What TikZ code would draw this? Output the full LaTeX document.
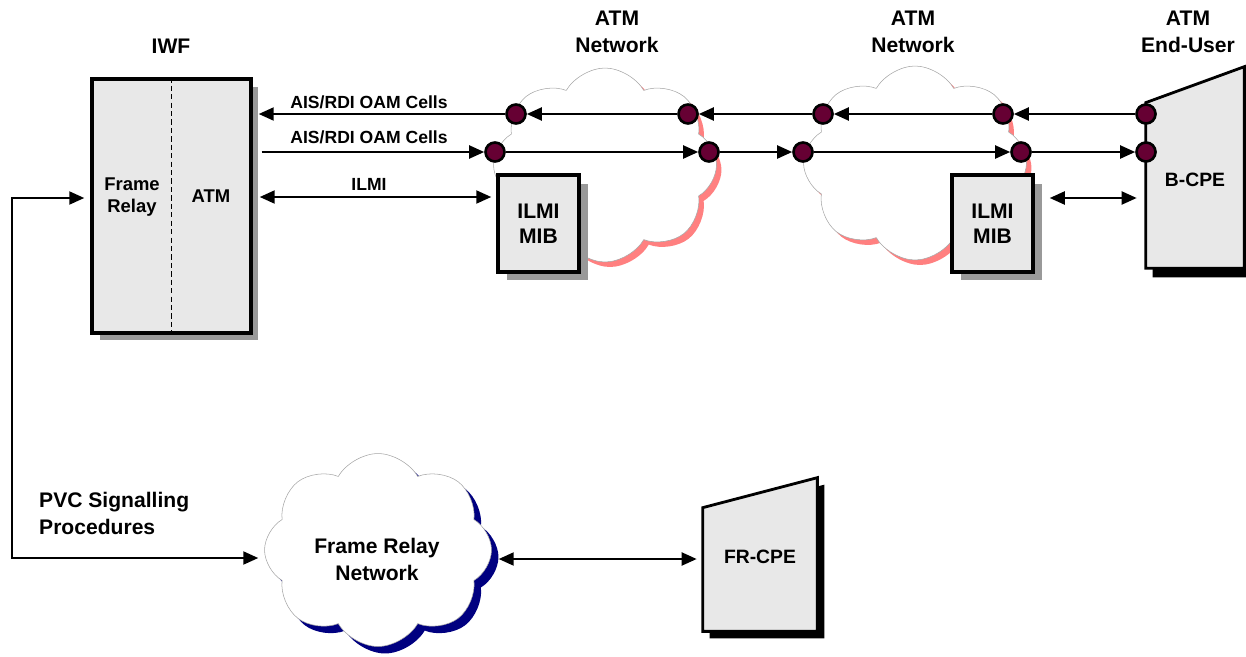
\documentclass[tikz,border=0pt]{standalone}
\usepackage{fontspec}
\setmainfont{Liberation Sans}
\usepackage{tikz}
\usetikzlibrary{arrows.meta, positioning, calc, shapes.symbols, shadows}
\definecolor{boxgray}{RGB}{232,232,232}
\definecolor{shadegray}{RGB}{153,153,153}
\definecolor{cellred}{RGB}{102,0,51}
\definecolor{atmpink}{RGB}{255,128,128}
\definecolor{frnavy}{RGB}{0,0,128}
\definecolor{cloudline}{RGB}{165,165,165}
\tikzset{
  iwfbox/.style={rectangle, draw=black, fill=boxgray, line width=2pt,
    minimum width=3.18cm, minimum height=5.08cm,
    drop shadow={shadow xshift=0.15cm, shadow yshift=-0.15cm, fill=shadegray, opacity=1}},
  mibbox/.style={rectangle, draw=black, fill=boxgray, line width=2pt,
    minimum width=1.62cm, minimum height=1.94cm, align=center,
    font=\fontsize{12}{14.2}\selectfont\bfseries,
    drop shadow={shadow xshift=0.17cm, shadow yshift=-0.17cm, fill=shadegray, opacity=1}},
  atmcloud/.style={cloud, cloud puffs=8, cloud puff arc=120, cloud ignores aspect,
    draw=cloudline, line width=0.3pt, fill=white,
    minimum width=4.46cm, minimum height=3.88cm,
    drop shadow={shadow xshift=0.1cm, shadow yshift=-0.1cm, fill=atmpink, opacity=1}},
  frcloud/.style={cloud, cloud puffs=8, cloud puff arc=120, cloud ignores aspect,
    draw=cloudline, line width=0.3pt, fill=white,
    minimum width=4.54cm, minimum height=3.86cm,
    drop shadow={shadow xshift=0.14cm, shadow yshift=-0.14cm, fill=frnavy, opacity=1}},
  cpebox/.style={rectangle, inner sep=0pt},
  cpe/.style={draw=black, fill=boxgray, line width=1.6pt, line join=miter},
  cellpt/.style={circle, draw=black, fill=cellred, line width=1.5pt,
    minimum size=0.38cm, inner sep=0pt},
  arrow/.style={-{Triangle[length=0.3cm, width=0.26cm]}, line width=1.2pt},
  dblarrow/.style={{Triangle[length=0.3cm, width=0.26cm]}-{Triangle[length=0.3cm, width=0.26cm]}, line width=1.2pt},
  lbl/.style={font=\fontsize{12}{15.4}\selectfont\bfseries, align=center},
  boxtxt/.style={font=\fontsize{10.5}{12.9}\selectfont\bfseries, align=center},
  cpetxt/.style={font=\fontsize{11}{13}\selectfont\bfseries},
  celllbl/.style={font=\fontsize{10}{12}\selectfont\bfseries}
}
\begin{document}
\begin{tikzpicture}[x=0.02cm, y=-0.02cm]
  \useasboundingbox (0,0) rectangle (1246,656);

  % Clouds
  \node[atmcloud] (atm1) at (605,165) {};
  \node[atmcloud] (atm2) at (915,163) {};
  \node[frcloud] (frnet) at (378,550) {};
  \node[lbl] (frnettxt) at (377,559) {Frame Relay\\Network};

  % Top labels
  \node[lbl] (iwflbl) at (171,46) {IWF};
  \node[lbl] (atm1lbl) at (617,32) {ATM\\Network};
  \node[lbl] (atm2lbl) at (913,32) {ATM\\Network};
  \node[lbl] (userlbl) at (1188,32) {ATM\\End-User};

  % IWF
  \node[iwfbox] (iwf) at (171.5,206) {};
  \draw[dash pattern=on 3pt off 1.8pt, line width=1pt] (iwf.north) -- (iwf.south);
  \node[boxtxt] (frtxt) at (132,197) {Frame\\Relay};
  \node[boxtxt] (atmtxt) at (211,196) {ATM};

  % ILMI MIBs
  \node[mibbox] (mib1) at (538.5,223.5) {ILMI\\MIB};
  \node[mibbox] (mib2) at (992.5,223.5) {ILMI\\MIB};

  % B-CPE
  \node[cpebox, minimum width=1.96cm, minimum height=4.02cm] (bcpe) at (1195,167.5) {};
  \fill[black] ($(bcpe.south west)+(7,9)$) -- ($(bcpe.south east)+(7,9)$)
    -- ($(bcpe.north east)+(7,9)$) -- ($(bcpe.north west)+(7,45)$) -- cycle;
  \draw[cpe] (bcpe.south west) -- (bcpe.south east) -- (bcpe.north east)
    -- ($(bcpe.north west)+(0,36)$) -- cycle;
  \node[cpetxt] (bcpetxt) at (1195,180) {B-CPE};

  % FR-CPE
  \node[cpebox, minimum width=2.28cm, minimum height=3.06cm] (frcpe) at (760,554.5) {};
  \fill[black] ($(frcpe.south west)+(7,7)$) -- ($(frcpe.south east)+(7,7)$)
    -- ($(frcpe.north east)+(7,7)$) -- ($(frcpe.north west)+(7,37)$) -- cycle;
  \draw[cpe] (frcpe.south west) -- (frcpe.south east) -- (frcpe.north east)
    -- ($(frcpe.north west)+(0,30)$) -- cycle;
  \node[cpetxt] (frcpetxt) at (760,557) {FR-CPE};

  % OAM cell points
  \node[cellpt] (a1) at (516,114) {};
  \node[cellpt] (a2) at (688,114) {};
  \node[cellpt] (a3) at (823,114) {};
  \node[cellpt] (a4) at (1003,114) {};
  \node[cellpt] (a5) at (1146,114) {};
  \node[cellpt] (b1) at (495,152) {};
  \node[cellpt] (b2) at (709,152) {};
  \node[cellpt] (b3) at (803,152) {};
  \node[cellpt] (b4) at (1021,152) {};
  \node[cellpt] (b5) at (1146,152) {};

  % AIS/RDI flows
  \draw[arrow] (a5) -- (a4);
  \draw[arrow] (a4) -- (a3);
  \draw[arrow] (a3) -- (a2);
  \draw[arrow] (a2) -- (a1);
  \draw[arrow] (a1) -- ($(a1 -| iwf.east)+(6,0)$);
  \draw[arrow] ($(b1 -| iwf.east)+(9,0)$) -- (b1);
  \draw[arrow] (b1) -- (b2);
  \draw[arrow] (b2) -- (b3);
  \draw[arrow] (b3) -- (b4);
  \draw[arrow] (b4) -- (b5);
  \node[celllbl] (aislbl1) at (369,102) {AIS/RDI OAM Cells};
  \node[celllbl] (aislbl2) at (369,137) {AIS/RDI OAM Cells};

  % ILMI
  \coordinate (ilmi) at (0,197);
  \draw[dblarrow] ($(ilmi -| iwf.east)+(7,0)$) -- ($(ilmi -| mib1.west)+(-5,0)$);
  \node[celllbl] (ilmilbl) at (369,184) {ILMI};
  \coordinate (ilmi2) at (0,198);
  \draw[dblarrow] ($(ilmi2 -| mib2.east)+(15,0)$) -- ($(ilmi2 -| bcpe.west)+(-9,0)$);

  % PVC signalling
  \coordinate (pvctop) at (12,198);
  \coordinate (pvcbot) at (12,558);
  \draw[dblarrow] ($(pvctop -| iwf.west)+(-6,0)$) -- (pvctop) -- (pvcbot)
    -- ($(pvcbot -| frnet.west)+(-6,0)$);
  \node[lbl, align=left, anchor=west] (pvclbl) at (33,513) {PVC Signalling\\Procedures};

  % FR access
  \coordinate (frlink) at (0,559);
  \draw[dblarrow] ($(frlink -| frnet.east)+(7,0)$) -- ($(frlink -| frcpe.west)+(-6,0)$);
\end{tikzpicture}
\end{document}
